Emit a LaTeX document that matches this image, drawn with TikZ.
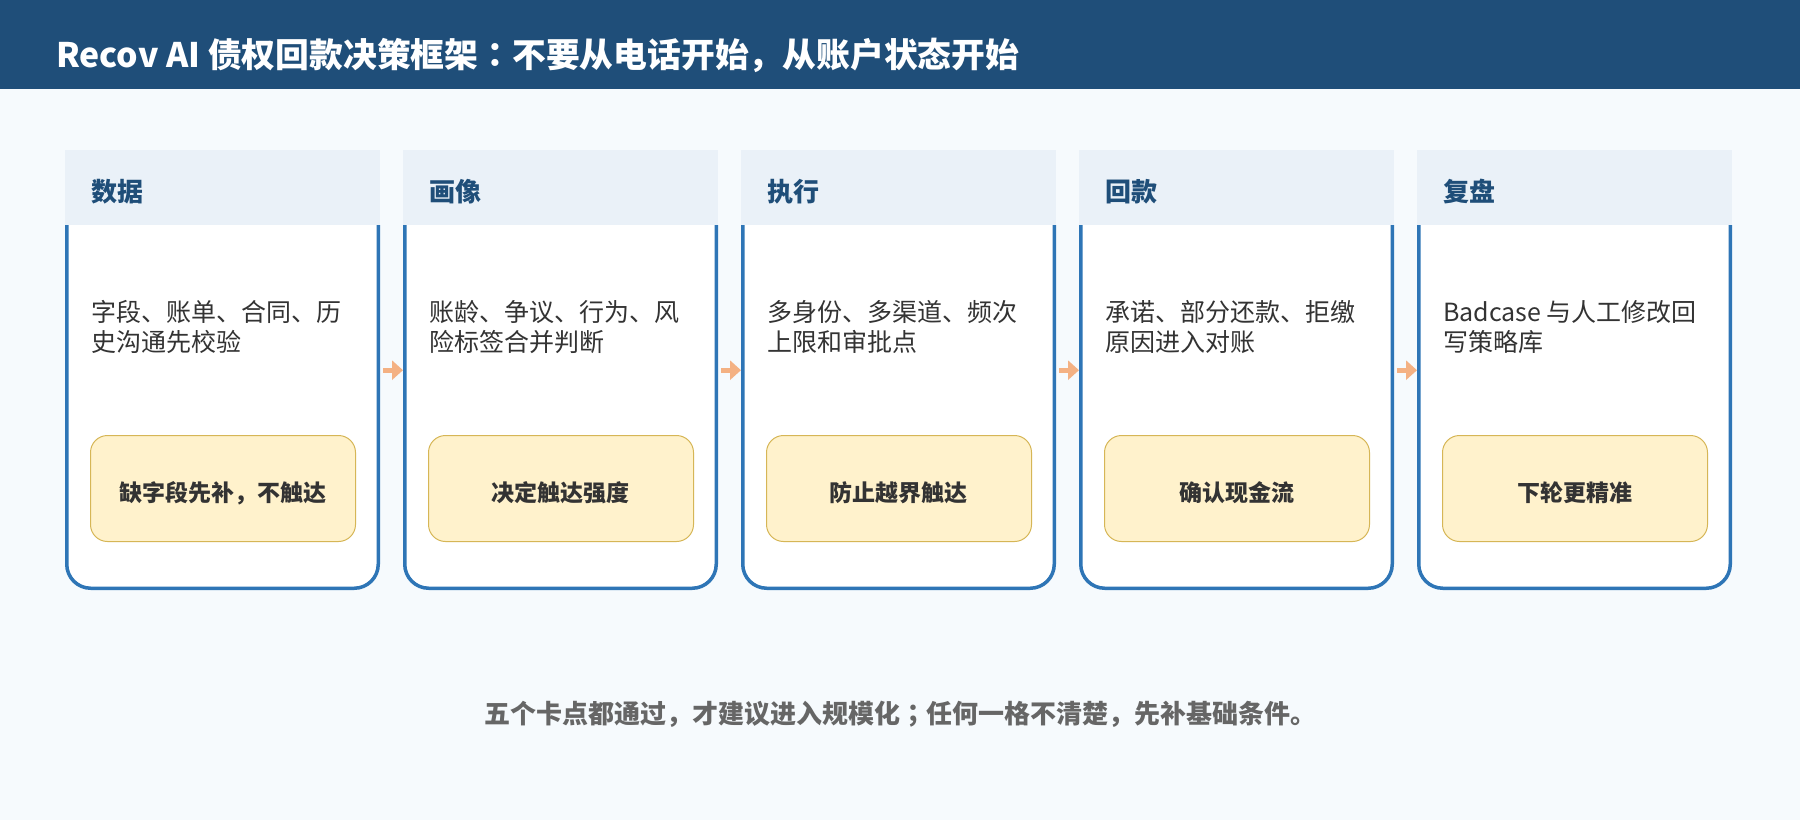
\documentclass[tikz,border=0pt]{standalone}
\usepackage{fontspec}
\setmainfont{Noto Sans CJK SC}
\newfontfamily\jpf{Noto Sans CJK JP}
\usetikzlibrary{arrows.meta}
\definecolor{hdr}{HTML}{1F4E79}
\definecolor{bgc}{HTML}{F6FAFD}
\definecolor{bandc}{HTML}{EAF1F8}
\definecolor{cardb}{HTML}{2E75B6}
\definecolor{txt}{HTML}{333333}
\definecolor{yfill}{HTML}{FFF2CC}
\definecolor{ydraw}{HTML}{D6B656}
\definecolor{footc}{HTML}{666666}
\definecolor{arrc}{HTML}{F4B183}
\tikzset{
  cardline/.style={fill=white, draw=cardb, line width=3.5pt, rounded corners=24pt},
  band/.style={fill=bandc, minimum width=315pt, minimum height=75pt, inner sep=0pt, anchor=north west},
  headtext/.style={anchor=west, inner sep=0pt, text=hdr, font=\fontsize{26}{30}\selectfont\bfseries},
  bodytext/.style={anchor=north west, inner sep=0pt, align=left, text=txt, font=\fontsize{25}{30}\selectfont},
  ybox/.style={fill=yfill, draw=ydraw, line width=1pt, rounded corners=17pt, minimum width=265pt, minimum height=106pt, inner sep=0pt, anchor=north west},
  ytext/.style={inner sep=0pt, text=txt, font=\fontsize{23}{28}\selectfont\bfseries},
  arr/.style={draw=arrc, line width=5pt, -{Triangle[length=11pt,width=19pt]}, shorten <=3pt}
}
\begin{document}
\begin{tikzpicture}[x=1pt,y=-1pt]
\useasboundingbox (0,0) rectangle (1800,820);
\fill[bgc] (0,0) rectangle (1800,820);
\fill[hdr] (0,0) rectangle (1800,89);
\node[anchor=west, inner sep=0pt, text=white, font=\fontsize{33.8}{40}\selectfont\bfseries] (title) at (56,55) {Recov AI 债权回款决策框架{\jpf ：}不要从电话开始，从账户状态开始};
\foreach \i/\h/\la/\lb/\bx in {
  1/数据/字段、账单、合同、历/史沟通先校验/缺字段先补，不触达,
  2/画像/账龄、争议、行为、风/险标签合并判断/决定触达强度,
  3/执行/多身份、多渠道、频次/上限和审批点/防止越界触达,
  4/回款/承诺、部分还款、拒缴/原因进入对账/确认现金流,
  5/复盘/Badcase 与人工修改回/写策略库/下轮更精准}{
  \pgfmathsetmacro\x{65+338*(\i-1)}
  \node[minimum width=315pt, minimum height=440pt, inner sep=0pt, anchor=north west] (c\i) at (\x,150) {};
  \filldraw[cardline] (\x+1.75,225) -- (\x+1.75,588.25) -- (\x+313.25,588.25) -- (\x+313.25,225);
  \node[band] (h\i) at (\x,150) {};
  \node[headtext] (ht\i) at (\x+26,192) {\h};
  \node[bodytext] (t\i) at (\x+26,300) {\la\\\lb};
  \node[ybox] (y\i) at (\x+25,435) {};
  \node[ytext] (yt\i) at (\x+157.5,493) {\bx};
}
\foreach \i [evaluate=\i as \j using int(\i+1)] in {1,...,4}
  \draw[arr] (c\i.east) -- (c\j.west);
\node[text=footc, font=\fontsize{26}{30}\selectfont\bfseries] (foot) at (900,714) {五个卡点都通过，才建议进入规模化{\jpf ；}任何一格不清楚，先补基础条件。};
\end{tikzpicture}
\end{document}
